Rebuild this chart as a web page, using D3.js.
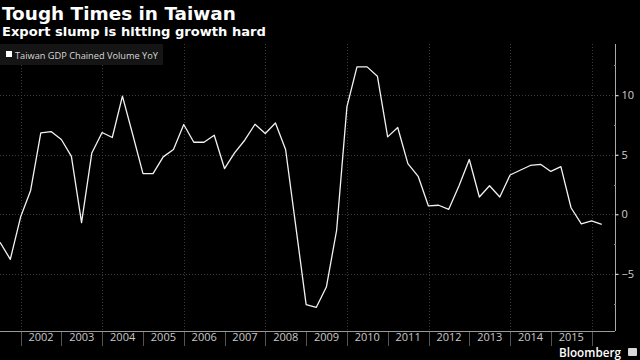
<!DOCTYPE html>
<html><head><meta charset="utf-8">
<script src="https://cdn.jsdelivr.net/npm/d3@7"></script>
<style>
html,body{margin:0;padding:0;background:#000;}
svg{display:block;}
</style></head>
<body>
<svg id="c" width="640" height="360"></svg>
<script>
// Quarter-end dates (Q2 2001 .. Q1 2016)
const quarters = ["2001-06-30","2001-09-30","2001-12-31",
 "2002-03-31","2002-06-30","2002-09-30","2002-12-31",
 "2003-03-31","2003-06-30","2003-09-30","2003-12-31",
 "2004-03-31","2004-06-30","2004-09-30","2004-12-31",
 "2005-03-31","2005-06-30","2005-09-30","2005-12-31",
 "2006-03-31","2006-06-30","2006-09-30","2006-12-31",
 "2007-03-31","2007-06-30","2007-09-30","2007-12-31",
 "2008-03-31","2008-06-30","2008-09-30","2008-12-31",
 "2009-03-31","2009-06-30","2009-09-30","2009-12-31",
 "2010-03-31","2010-06-30","2010-09-30","2010-12-31",
 "2011-03-31","2011-06-30","2011-09-30","2011-12-31",
 "2012-03-31","2012-06-30","2012-09-30","2012-12-31",
 "2013-03-31","2013-06-30","2013-09-30","2013-12-31",
 "2014-03-31","2014-06-30","2014-09-30","2014-12-31",
 "2015-03-31","2015-06-30","2015-09-30","2015-12-31",
 "2016-03-31"];
const gdpYoY = [-2.35,-3.78,-0.23,
 2.0,6.83,6.95,6.28,
 4.87,-0.7,5.15,6.87,
 6.45,9.92,6.7,3.42,
 3.42,4.82,5.44,7.54,
 6.05,6.05,6.64,3.84,
 5.15,6.22,7.56,6.78,
 7.67,5.44,-1.05,-7.59,
 -7.82,-6.11,-1.34,9.02,
 12.38,12.38,11.6,6.5,
 7.29,4.26,3.19,0.7,
 0.76,0.42,2.4,4.6,
 1.45,2.4,1.45,3.3,
 3.7,4.1,4.2,3.6,
 4.0,0.55,-0.8,-0.56,
 -0.84];
const yearLabels = ["2002","2003","2004","2005","2006","2007","2008","2009","2010","2011","2012","2013","2014","2015"];
const yTicks = [10,5,0,-5];
const yMinorTicks = [12.5,7.5,2.5,-2.5,-7.5];
const seriesName = "Taiwan GDP Chained Volume YoY";
const title = "Tough Times in Taiwan";
const subtitle = "Export slump is hitting growth hard";

const svg = d3.select("#c");
const W = 640, H = 360;
const plotL = 0, plotR = 615, plotT = 44, plotB = 331;
const parse = d3.utcParse("%Y-%m-%d");
const data = quarters.map((q,i)=>({date:parse(q), v:gdpYoY[i]}));

const x = d3.scaleUtc()
  .domain([parse("2002-01-01"), parse("2016-01-01")])
  .range([20.7, 591.7]);
const y = d3.scaleLinear().domain([-9.8, 14.3]).range([plotB, plotT]);

// fit a text's font-size so that it spans the given width
function fitWidth(sel, target){
  const n = sel.node();
  const fs = parseFloat(sel.attr("font-size"));
  const w = n.getComputedTextLength();
  if (w > 0) sel.attr("font-size", (fs*target/w).toFixed(2)+"px");
  return sel;
}

svg.append("rect").attr("width",W).attr("height",H).attr("fill","#000");

svg.append("defs").append("clipPath").attr("id","clip")
  .append("rect").attr("x",plotL).attr("y",plotT).attr("width",plotR-plotL).attr("height",plotB-plotT);

// vertical grid (every 2 years)
const gridYears = d3.range(2002, 2017, 2).map(yr => parse(yr+"-01-01"));
svg.append("g").selectAll("line").data(gridYears).join("line")
  .attr("x1",d=>Math.round(x(d))+0.5).attr("x2",d=>Math.round(x(d))+0.5)
  .attr("y1",plotT).attr("y2",plotB)
  .attr("stroke","#3a3a3a").attr("stroke-width",1).attr("stroke-dasharray","1,2");

// horizontal grid
svg.append("g").selectAll("line").data(yTicks).join("line")
  .attr("x1",plotL).attr("x2",plotR)
  .attr("y1",d=>Math.round(y(d))+0.5).attr("y2",d=>Math.round(y(d))+0.5)
  .attr("stroke","#3a3a3a").attr("stroke-width",1).attr("stroke-dasharray","1,2");

// legend box
const lg = svg.append("g");
lg.append("rect").attr("x",0).attr("y",44).attr("width",163).attr("height",21).attr("fill","#151515");
lg.append("rect").attr("x",6).attr("y",51).attr("width",6).attr("height",6).attr("fill","#ffffff");
fitWidth(lg.append("text").attr("x",15).attr("y",58.5).text(seriesName)
  .attr("fill","#d8d8d8").attr("font-family","'Open Sans', sans-serif").attr("font-size","10px"), 143);

// line
const line = d3.line().x(d=>x(d.date)).y(d=>y(d.v));
svg.append("path").datum(data)
  .attr("clip-path","url(#clip)")
  .attr("d",line).attr("fill","none")
  .attr("stroke","#f2f2f2").attr("stroke-width",1.3).attr("stroke-linejoin","round");

// x axis line
svg.append("line").attr("x1",plotL).attr("x2",plotR).attr("y1",plotB+0.5).attr("y2",plotB+0.5)
  .attr("stroke","#9a9a9a").attr("stroke-width",1);

// year ticks
const yearTicks = d3.range(2002, 2017).map(yr => parse(yr+"-01-01"));
svg.append("g").selectAll("line").data(yearTicks).join("line")
  .attr("x1",d=>Math.round(x(d))+0.5).attr("x2",d=>Math.round(x(d))+0.5)
  .attr("y1",plotB+1).attr("y2",plotB+15)
  .attr("stroke","#555").attr("stroke-width",1);

// year labels
svg.append("g").selectAll("text").data(yearLabels).join("text")
  .attr("x",d=>x(parse(d+"-07-02")))
  .attr("y",340.5)
  .attr("text-anchor","middle")
  .attr("fill","#c8c8c8").attr("font-family","'Open Sans', sans-serif").attr("font-size","11px")
  .text(d=>d);

// y axis
const yAxis = d3.axisRight(y).tickValues(yTicks).tickSize(3).tickPadding(3).tickFormat(d3.format("d"));
const ya = svg.append("g").attr("transform",`translate(${plotR+0.5},0)`).call(yAxis);
ya.select(".domain").attr("stroke","#aaaaaa").attr("d",`M0,${plotT}V${plotB}`);
ya.selectAll(".tick line").attr("stroke","#ffffff");
ya.selectAll(".tick text").attr("fill","#d0d0d0").attr("font-family","'Open Sans', sans-serif").attr("font-size","11px");
svg.append("g").selectAll("line").data(yMinorTicks).join("line")
  .attr("x1",plotR-1).attr("x2",plotR+1)
  .attr("y1",d=>Math.round(y(d))+0.5).attr("y2",d=>Math.round(y(d))+0.5)
  .attr("stroke","#888");

// titles
fitWidth(svg.append("text").attr("x",2).attr("y",19.5).text(title)
  .attr("fill","#ffffff").attr("font-family","'DejaVu Sans', sans-serif").attr("font-weight","bold").attr("font-size","17px"), 234);
fitWidth(svg.append("text").attr("x",2).attr("y",36).text(subtitle)
  .attr("fill","#ffffff").attr("font-family","'DejaVu Sans', sans-serif").attr("font-weight","bold").attr("font-size","13px"), 264);

// Bloomberg
fitWidth(svg.append("text").attr("x",559).attr("y",357).text("Bloomberg")
  .attr("fill","#ffffff").attr("font-family","'Open Sans', sans-serif").attr("font-weight","600").attr("font-size","12px"), 62);
svg.append("rect").attr("x",628).attr("y",348).attr("width",9).attr("height",8).attr("rx",1).attr("fill","#d8d8d8");
</script>
</body></html>
